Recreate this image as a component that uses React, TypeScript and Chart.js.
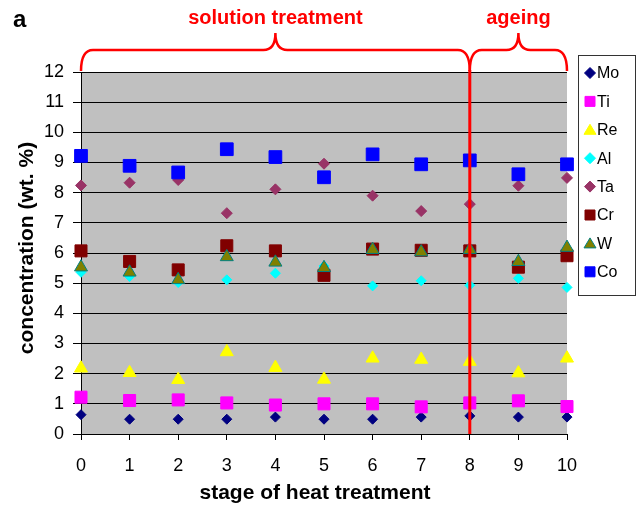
import React, { useEffect, useRef } from "react";
import { Chart, registerables } from "chart.js";

Chart.register(...registerables);

const stages = [0, 1, 2, 3, 4, 5, 6, 7, 8, 9, 10];
const moValues = [0.64, 0.49, 0.49, 0.49, 0.56, 0.49, 0.49, 0.56, 0.6, 0.56, 0.56];
const tiValues = [1.22, 1.11, 1.13, 1.03, 0.96, 1.0, 1.0, 0.9, 1.03, 1.1, 0.91];
const reValues = [2.18, 2.03, 1.8, 2.72, 2.2, 1.81, 2.51, 2.47, 2.4, 2.02, 2.51];
const alValues = [5.36, 5.22, 5.02, 5.11, 5.33, 5.57, 4.91, 5.08, 4.93, 5.16, 4.86];
const taValues = [8.24, 8.33, 8.42, 7.32, 8.11, 8.96, 7.9, 7.39, 7.62, 8.23, 8.49];
const crValues = [6.07, 5.72, 5.44, 6.24, 6.07, 5.26, 6.13, 6.09, 6.07, 5.53, 5.91];
const wValues = [5.53, 5.36, 5.11, 5.87, 5.69, 5.51, 6.11, 6.03, 6.11, 5.71, 6.18];
const coValues = [9.22, 8.89, 8.67, 9.44, 9.18, 8.51, 9.27, 8.94, 9.07, 8.61, 8.94];

const seriesNames = ["Mo", "Ti", "Re", "Al", "Ta", "Cr", "W", "Co"];
const seriesValues = [moValues, tiValues, reValues, alValues, taValues, crValues, wValues, coValues];
const seriesFill = ["#000080", "#FF00FF", "#FFFF00", "#00FFFF", "#993366", "#800000", "#808000", "#0000FF"];
const seriesBorder = ["#000080", "#FF00FF", "#FFFF00", "#00FFFF", "#993366", "#800000", "#008080", "#0000FF"];
const seriesStyle = ["rectRot", "rect", "triangle", "rectRot", "rectRot", "rect", "triangle", "rect"];
const seriesRadius = [5, 8.5, 7.5, 5, 5.5, 8.5, 7.5, 9];

const xTicks = [0, 1, 2, 3, 4, 5, 6, 7, 8, 9, 10];
const yTicks = [0, 1, 2, 3, 4, 5, 6, 7, 8, 9, 10, 11, 12];
const dividerStage = 8;

const FONT = "'Liberation Sans', Arial, sans-serif";

function drawBrace(ctx: CanvasRenderingContext2D, x1: number, x2: number, yB: number, yH: number, yT: number) {
  const xm = (x1 + x2) / 2;
  const r = 12;
  ctx.beginPath();
  ctx.moveTo(x1, yB);
  ctx.quadraticCurveTo(x1, yH, x1 + r, yH);
  ctx.lineTo(xm - r, yH);
  ctx.quadraticCurveTo(xm, yH, xm, yT);
  ctx.quadraticCurveTo(xm, yH, xm + r, yH);
  ctx.lineTo(x2 - r, yH);
  ctx.quadraticCurveTo(x2, yH, x2, yB);
  ctx.stroke();
}

const decorPlugin = {
  id: "decor",
  afterDatasetsDraw(chart: any) {
    const { ctx } = chart;
    const x = chart.scales.x;
    const xp = x.getPixelForValue(dividerStage);
    ctx.save();
    ctx.strokeStyle = "#FF0000";
    ctx.lineWidth = 3;
    ctx.beginPath();
    ctx.moveTo(xp, chart.chartArea.top - 2);
    ctx.lineTo(xp, chart.chartArea.bottom);
    ctx.stroke();
    ctx.restore();
  },
  beforeDraw(chart: any) {
    const { ctx, chartArea } = chart;
    ctx.save();
    ctx.fillStyle = "#C0C0C0";
    ctx.fillRect(chartArea.left, chartArea.top, chartArea.right - chartArea.left, chartArea.bottom - chartArea.top);
    ctx.restore();
  },
  afterDraw(chart: any) {
    const { ctx, chartArea } = chart;
    const x = chart.scales.x;
    const xL = x.getPixelForValue(xTicks[0]);
    const xD = x.getPixelForValue(dividerStage);
    const xR = x.getPixelForValue(xTicks[xTicks.length - 1]);
    ctx.save();
    ctx.strokeStyle = "#FF0000";
    ctx.lineWidth = 2.5;
    drawBrace(ctx, xL, xD, chartArea.top - 1, 50, 33);
    drawBrace(ctx, xD, xR, chartArea.top - 1, 50, 33);
    ctx.fillStyle = "#FF0000";
    ctx.font = `bold 20px ${FONT}`;
    ctx.textAlign = "center";
    ctx.textBaseline = "middle";
    ctx.fillText("solution treatment", (xL + xD) / 2, 18);
    ctx.fillText("ageing", (xD + xR) / 2, 18);
    ctx.fillStyle = "#000";
    ctx.font = `bold 24px ${FONT}`;
    ctx.textAlign = "left";
    ctx.fillText("a", 13, 20);
    ctx.font = `bold 21px ${FONT}`;
    ctx.textAlign = "center";
    ctx.fillText("stage of heat treatment", 315, 493);
    ctx.save();
    ctx.translate(27, 248);
    ctx.rotate(-Math.PI / 2);
    ctx.fillText("concentration (wt. %)", 0, 0);
    ctx.restore();
    const lx = 578, ly = 55, lw = 57, lh = 240;
    ctx.fillStyle = "#FFFFFF";
    ctx.fillRect(lx, ly, lw, lh);
    ctx.strokeStyle = "#333";
    ctx.lineWidth = 1;
    ctx.strokeRect(lx + 0.5, ly + 0.5, lw, lh);
    ctx.font = `16px ${FONT}`;
    ctx.textAlign = "left";
    ctx.textBaseline = "middle";
    seriesNames.forEach((name, i) => {
      const cy = 73 + i * 28.4;
      const cx = 590;
      ctx.fillStyle = seriesFill[i];
      ctx.strokeStyle = seriesBorder[i];
      ctx.lineWidth = 1;
      const style = seriesStyle[i];
      ctx.beginPath();
      if (style === "rectRot") {
        ctx.moveTo(cx, cy - 5.5);
        ctx.lineTo(cx + 5.5, cy);
        ctx.lineTo(cx, cy + 5.5);
        ctx.lineTo(cx - 5.5, cy);
        ctx.closePath();
      } else if (style === "rect") {
        ctx.rect(cx - 5, cy - 5, 10, 10);
      } else {
        ctx.moveTo(cx, cy - 5.5);
        ctx.lineTo(cx + 6, cy + 4.5);
        ctx.lineTo(cx - 6, cy + 4.5);
        ctx.closePath();
      }
      ctx.fill();
      ctx.stroke();
      ctx.fillStyle = "#000";
      ctx.fillText(name, 597, cy + 1);
    });
    ctx.restore();
  },
};

export default function App() {
  const canvasRef = useRef<HTMLCanvasElement | null>(null);

  useEffect(() => {
    const canvas = canvasRef.current;
    if (!canvas) return;
    const datasets = seriesNames.map((name, i) => ({
      label: name,
      data: stages.map((s, j) => ({ x: s, y: seriesValues[i][j] })),
      pointStyle: seriesStyle[i] as any,
      pointRadius: seriesRadius[i],
      backgroundColor: seriesFill[i],
      borderColor: seriesBorder[i],
      borderWidth: 1,
      showLine: false,
      clip: false as any,
      order: seriesNames.length - i,
    }));
    const chart = new Chart(canvas, {
      type: "scatter",
      data: { datasets },
      options: {
        animation: false,
        responsive: false,
        maintainAspectRatio: false,
        layout: { padding: { top: 72, right: 77, left: 0, bottom: 0 } },
        plugins: { legend: { display: false }, tooltip: { enabled: false } },
        scales: {
          x: {
            type: "linear",
            min: 0,
            max: 10,
            afterBuildTicks: (scale: any) => {
              scale.ticks = xTicks.map((v) => ({ value: v }));
            },
            afterFit: (scale: any) => {
              scale.height = 72;
            },
            grid: { drawOnChartArea: false, drawTicks: true, tickLength: 6, color: "#000" },
            border: { display: true, color: "#000", width: 1 },
            ticks: { color: "#000", font: { family: FONT, size: 18 }, padding: 15, maxRotation: 0 },
          },
          y: {
            type: "linear",
            min: 0,
            max: 12,
            afterBuildTicks: (scale: any) => {
              scale.ticks = yTicks.map((v) => ({ value: v }));
            },
            afterFit: (scale: any) => {
              scale.width = 81;
            },
            grid: { drawOnChartArea: true, drawTicks: true, tickLength: 8, color: "#000", lineWidth: 1 },
            border: { display: true, color: "#000", width: 1 },
            ticks: { color: "#000", font: { family: FONT, size: 18 }, padding: 9 },
          },
        },
      },
      plugins: [decorPlugin],
    });
    return () => chart.destroy();
  }, []);

  return (
    <div style={{ position: "absolute", left: 0, top: 0, width: 644, height: 506, background: "#fff" }}>
      <canvas ref={canvasRef} width={644} height={506} style={{ width: 644, height: 506 }} />
    </div>
  );
}
